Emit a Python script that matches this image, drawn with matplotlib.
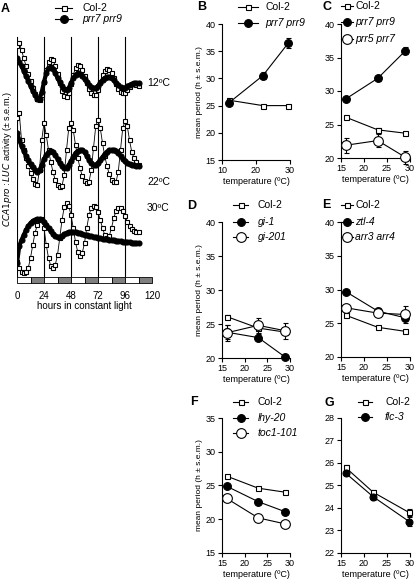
import numpy as np
import matplotlib
matplotlib.use("Agg")
import matplotlib.pyplot as plt
from matplotlib.lines import Line2D
from matplotlib.patches import Rectangle

W, H = 415, 583
plt.rcParams["font.family"] = ["Liberation Sans", "DejaVu Sans"]
plt.rcParams["font.size"] = 6.5

# ---- panel A: CCA1pro:LUC traces (arbitrary units, top = high) ----
hours = list(range(0, 110, 2))
col2_12 = [46, 43, 50, 58, 66, 74, 81, 88, 94, 99, 100, 95, 82, 70, 62, 59, 60, 66, 74, 83,
           91, 96, 97, 93, 84, 75, 68, 65, 66, 70, 76, 83, 89, 93, 95, 95, 90, 82, 75, 71,
           69, 70, 73, 78, 84, 89, 92, 93, 93, 90, 87, 84, 84, 85, 86]
prr_12 = [58, 62, 66, 71, 76, 81, 86, 91, 95, 99, 99, 92, 82, 73, 68, 67, 69, 73, 78, 82,
          86, 89, 90, 88, 83, 78, 75, 73, 74, 76, 79, 82, 85, 87, 88, 88, 86, 83, 80, 78,
          77, 77, 78, 80, 83, 85, 87, 88, 88, 86, 85, 84, 83, 83, 83]
col2_22 = [118, 113, 140, 150, 158, 166, 173, 179, 184, 185, 170, 140, 123, 135, 150, 162, 172, 180, 185, 187,
           186, 175, 150, 128, 123, 130, 145, 158, 168, 176, 181, 183, 182, 170, 148, 126, 120, 128, 143, 156,
           166, 174, 180, 182, 182, 172, 150, 128, 121, 126, 140, 152, 158, 162, 165]
prr_22 = [133, 140, 146, 151, 156, 160, 164, 167, 170, 172, 170, 165, 159, 155, 152, 151, 152, 155, 159, 163,
          166, 168, 168, 165, 161, 157, 153, 151, 150, 150, 152, 156, 160, 163, 165, 165, 163, 160, 157, 154,
          152, 150, 150, 150, 151, 153, 156, 159, 161, 163, 164, 165, 165, 166, 166]
col2_30 = [262, 268, 272, 273, 272, 268, 258, 245, 233, 225, 220, 219, 228, 245, 258, 266, 268, 265, 255, 238,
           220, 207, 203, 206, 215, 228, 242, 252, 256, 253, 243, 228, 215, 208, 206, 207, 212, 220, 228, 235,
           238, 236, 228, 218, 211, 208, 208, 211, 216, 222, 226, 229, 231, 232, 232]
prr_30 = [263, 246, 240, 235, 230, 226, 223, 221, 220, 219, 219, 220, 222, 225, 228, 231, 234, 236, 237, 237,
          236, 234, 233, 232, 232, 232, 232, 233, 233, 234, 235, 235, 236, 236, 237, 237, 238, 238, 239, 239,
          239, 240, 240, 240, 241, 241, 241, 242, 242, 242, 242, 243, 243, 243, 243]
temps_A = ["12ºC", "22ºC", "30ºC"]
temp_label_y = [83, 182, 208]
bar_edges = list(range(0, 132, 12))

# ---- panels B-G: mean period vs temperature ----
B_temp = [12, 22, 29.5]
B_col2 = [26.0, 25.0, 25.0]
B_col2_err = [0.3, 0.2, 0.2]
B_prr79 = [25.5, 30.5, 36.5]
B_prr79_err = [0.3, 0.6, 1.0]

CDE_temp = [16, 23, 29]
C_col2 = [26.1, 24.2, 23.7]
C_col2_err = [0.2, 0.3, 0.2]
C_prr79 = [28.8, 31.9, 36.0]
C_prr79_err = [0.3, 0.4, 0.5]
C_prr57 = [21.9, 22.6, 20.1]
C_prr57_err = [1.1, 1.0, 1.0]

D_col2 = [26.1, 24.4, 23.8]
D_col2_err = [0.2, 0.2, 0.2]
D_gi1 = [23.8, 23.0, 20.1]
D_gi1_err = [1.0, 0.5, 0.3]
D_gi201 = [23.7, 24.8, 24.0]
D_gi201_err = [1.2, 1.1, 1.2]

E_col2 = [26.2, 24.4, 23.8]
E_col2_err = [0.2, 0.2, 0.2]
E_ztl = [29.7, 26.8, 25.8]
E_ztl_err = [0.3, 0.4, 0.5]
E_arr = [27.3, 26.5, 26.3]
E_arr_err = [0.4, 0.4, 1.2]

F_col2 = [26.4, 24.6, 24.0]
F_col2_err = [0.2, 0.2, 0.2]
F_lhy = [24.9, 22.6, 21.1]
F_lhy_err = [0.2, 0.3, 0.3]
F_toc = [23.1, 20.2, 19.3]
F_toc_err = [0.2, 0.3, 0.2]

G_temp = [16, 22, 29.8]
G_col2 = [25.8, 24.7, 23.8]
G_col2_err = [0.1, 0.1, 0.15]
G_flc = [25.55, 24.5, 23.4]
G_flc_err = [0.1, 0.15, 0.2]


def box(l, r, t, b):
    return [l / W, 1 - b / H, (r - l) / W, (b - t) / H]


def fx(x):
    return x / W


def fy(y):
    return 1 - y / H


fig = plt.figure(figsize=(W / 100, H / 100), dpi=100)

SQ = dict(marker="s", ms=3.6, mfc="white", mec="black", mew=0.8)
DOT = dict(marker="o", ms=5.6, mfc="black", mec="black", mew=0.8)
OPEN = dict(marker="o", ms=7, mfc="white", mec="black", mew=0.8)


def legend_row(x0, x1, xt, y, style, label, italic):
    fig.add_artist(Line2D([fx(x0), fx(x1)], [fy(y), fy(y)], color="black", lw=0.8,
                          transform=fig.transFigure))
    fig.add_artist(Line2D([fx((x0 + x1) / 2)], [fy(y)], ls="none", transform=fig.transFigure, **style))
    fig.text(fx(xt), fy(y), label, va="center", ha="left", fontsize=7.5,
             style="italic" if italic else "normal")


# ---------------- panel A ----------------
axA = fig.add_axes(box(17, 152, 35, 283))
axA.set_xlim(0, 120)
axA.set_ylim(283, 35)
for t in [0, 24, 48, 72, 96]:
    axA.plot([t, t], [277, 37], color="black", lw=0.8, zorder=1)
for i in range(len(bar_edges) - 1):
    c = "white" if i % 2 == 0 else "#808080"
    axA.add_patch(Rectangle((bar_edges[i], 277), 12, 6, facecolor=c, edgecolor="black", lw=0.6,
                            clip_on=False))
for col2, prr in [(col2_12, prr_12), (col2_22, prr_22), (col2_30, prr_30)]:
    axA.plot(hours, col2, color="black", lw=0.6, zorder=2, **dict(SQ, ms=3.4))
    axA.plot(hours, prr, color="black", lw=3.0, zorder=3, **dict(DOT, ms=3.6))
for lab, yy in zip(temps_A, temp_label_y):
    axA.text(fx(147), fy(yy), lab, transform=fig.transFigure, va="center", ha="left", fontsize=7.5)
for s in axA.spines.values():
    s.set_visible(False)
axA.set_yticks([])
axA.set_xticks([0, 24, 48, 72, 96, 120])
axA.tick_params(axis="x", length=0, pad=6, labelsize=7)
axA.set_xlabel("hours in constant light", fontsize=7, labelpad=0)
axA.set_ylabel(r"$\it{CCA1pro{:}LUC}$ activity (± s.e.m.)", fontsize=6.5, labelpad=2)
fig.text(fx(1), fy(9), "A", fontsize=9, fontweight="bold", va="center")
legend_row(55, 72, 82, 8, SQ, "Col-2", False)
legend_row(55, 72, 82, 19, DOT, "prr7 prr9", True)


def period_axes(rect, xlim, ylim, xticks, yticks, ylabel):
    ax = fig.add_axes(rect)
    ax.set_xlim(*xlim)
    ax.set_ylim(*ylim)
    ax.set_xticks(xticks)
    ax.set_yticks(yticks)
    ax.spines["top"].set_visible(False)
    ax.spines["right"].set_visible(False)
    for s in ["left", "bottom"]:
        ax.spines[s].set_linewidth(0.8)
    ax.tick_params(direction="out", length=3, width=0.8, labelsize=6.5, pad=1.5)
    ax.set_xlabel("temperature (ºC)", fontsize=6.5, labelpad=1)
    if ylabel:
        ax.set_ylabel("mean period (h ± s.e.m.)", fontsize=6, labelpad=2)
    return ax


def series(ax, x, y, err, style):
    ax.errorbar(x, y, yerr=err, color="black", lw=0.8, elinewidth=0.8, capsize=1.8, capthick=0.8,
                clip_on=False, zorder=3, **style)


# ---------------- panel B ----------------
axB = period_axes(box(222, 290, 24, 160), (10, 30), (15, 40), [10, 20, 30], range(15, 41, 5), True)
series(axB, B_temp, B_col2, B_col2_err, SQ)
series(axB, B_temp, B_prr79, B_prr79_err, DOT)
fig.text(fx(197), fy(7), "B", fontsize=9, fontweight="bold", va="center")
legend_row(238, 258, 265, 7, SQ, "Col-2", False)
legend_row(238, 258, 265, 23, DOT, "prr7 prr9", True)

# ---------------- panel C ----------------
axC = period_axes(box(341, 410, 24, 158), (15, 30), (20, 40), [15, 20, 25, 30], range(20, 41, 5), False)
series(axC, CDE_temp, C_col2, C_col2_err, SQ)
series(axC, CDE_temp, C_prr79, C_prr79_err, DOT)
series(axC, CDE_temp, C_prr57, C_prr57_err, OPEN)
fig.text(fx(322), fy(7), "C", fontsize=9, fontweight="bold", va="center")
legend_row(341, 353, 355, 6, SQ, "Col-2", False)
legend_row(341, 353, 355, 22, DOT, "prr7 prr9", True)
legend_row(341, 353, 355, 39, OPEN, "prr5 prr7", True)

# ---------------- panel D ----------------
axD = period_axes(box(222, 290, 222, 358), (15, 30), (20, 40), [15, 20, 25, 30], range(20, 41, 5), True)
series(axD, CDE_temp, D_col2, D_col2_err, SQ)
series(axD, CDE_temp, D_gi1, D_gi1_err, DOT)
series(axD, CDE_temp, D_gi201, D_gi201_err, OPEN)
fig.text(fx(187), fy(206), "D", fontsize=9, fontweight="bold", va="center")
legend_row(233, 248, 258, 205, SQ, "Col-2", False)
legend_row(233, 248, 258, 222, DOT, "gi-1", True)
legend_row(233, 248, 258, 237, OPEN, "gi-201", True)

# ---------------- panel E ----------------
axE = period_axes(box(341, 410, 222, 357), (15, 30), (20, 40), [15, 20, 25, 30], range(20, 41, 5), False)
series(axE, CDE_temp, E_col2, E_col2_err, SQ)
series(axE, CDE_temp, E_ztl, E_ztl_err, DOT)
series(axE, CDE_temp, E_arr, E_arr_err, OPEN)
fig.text(fx(322), fy(205), "E", fontsize=9, fontweight="bold", va="center")
legend_row(341, 353, 355, 205, SQ, "Col-2", False)
legend_row(341, 353, 355, 222, DOT, "ztl-4", True)
legend_row(341, 353, 355, 237, OPEN, "arr3 arr4", True)

# ---------------- panel F ----------------
axF = period_axes(box(222, 290, 418, 553), (15, 30), (15, 35), [15, 20, 25, 30], range(15, 36, 5), True)
series(axF, CDE_temp, F_col2, F_col2_err, SQ)
series(axF, CDE_temp, F_lhy, F_lhy_err, DOT)
series(axF, CDE_temp, F_toc, F_toc_err, OPEN)
fig.text(fx(190), fy(402), "F", fontsize=9, fontweight="bold", va="center")
legend_row(233, 248, 258, 402, SQ, "Col-2", False)
legend_row(233, 248, 258, 418, DOT, "lhy-20", True)
legend_row(233, 248, 258, 433, OPEN, "toc1-101", True)

# ---------------- panel G ----------------
axG = period_axes(box(341, 410, 418, 553), (15, 30), (22, 28), [15, 20, 25, 30], range(22, 29), False)
series(axG, G_temp, G_col2, G_col2_err, SQ)
series(axG, G_temp, G_flc, G_flc_err, dict(DOT, ms=5))
fig.text(fx(324), fy(403), "G", fontsize=9, fontweight="bold", va="center")
legend_row(358, 372, 385, 402, SQ, "Col-2", False)
legend_row(358, 372, 385, 417, DOT, "flc-3", True)

fig.savefig("out.png", dpi=100)
